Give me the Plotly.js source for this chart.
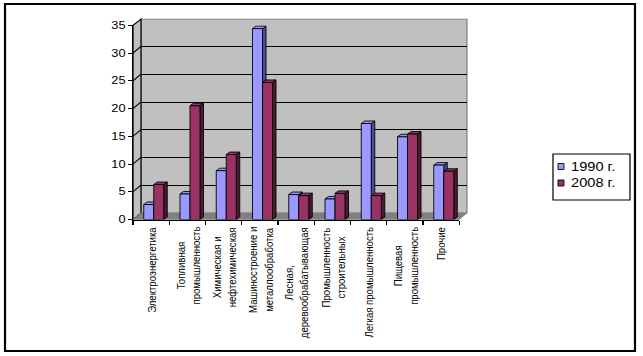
<!DOCTYPE html>
<html><head><meta charset="utf-8">
<script src="https://cdn.plot.ly/plotly-3.0.1.min.js"></script>
<style>
html,body{margin:0;padding:0;background:#fff;overflow:hidden;}
#wrap{width:643px;height:356px;overflow:hidden;position:relative;}
#chart{width:527px;height:356px;transform:scaleX(1.22011);transform-origin:0 0;}
</style></head><body><div id="wrap"><div id="chart"></div></div>
<script>
// ---- data ----
const categories = [
  "Электроэнергетика",
  "Топливная<br>промышленность",
  "Химическая и<br>нефтехимическая",
  "Машиностроение и<br>металлообработка",
  "Лесная,<br>деревообрабатывающая",
  "Промышленность<br>строительных",
  "Легкая промышленность",
  "Пищевая<br>промышленность",
  "Прочие"
];
const seriesNames = ["1990 г.", "2008 г."];
const v1990 = [2.7, 4.6, 8.8, 34.4, 4.5, 3.7, 17.3, 14.9, 9.8];
const v2008 = [6.3, 20.5, 11.7, 24.7, 4.3, 4.7, 4.3, 15.4, 8.7];
const yTicks = [0, 5, 10, 15, 20, 25, 30, 35];

// ---- layout helpers (reference pixel frame -> paper fractions) ----
const W = 643, H = 356;
const fx = x => x / W, fy = y => 1 - y / H;
const FRONT = {x0: 133, x1: 459.3, yb: 219.5, yt: 25.3};
const BACK  = {x0: 141, x1: 467,   yb: 213,   yt: 19.2};
const FONT = "Liberation Sans, Arial, sans-serif";

const series = [
  {name: seriesNames[0], vals: v1990, off: -0.204, front: "#9999FF", side: "#4D4D99", top: "#9999FF"},
  {name: seriesNames[1], vals: v2008, off: 0.072,  front: "#993366", side: "#4D1A33", top: "#993366"}
];
const BW = 0.276, DX = 0.0965, DY = 0.45;

const traces = [
  {type: "scatter", x: [], y: [], xaxis: "x", yaxis: "y", hoverinfo: "skip", showlegend: false}
];
series.forEach(s => traces.push({
  type: "bar", name: s.name, x: categories, y: s.vals, xaxis: "x2", yaxis: "y2",
  width: BW, offset: s.off, marker: {color: s.front, line: {color: "#000", width: 0.8}},
  showlegend: false, hoverinfo: "skip"
}));

const P = (pts) => "M" + pts.map(p => fx(p[0]) + "," + fy(p[1])).join(" L") + " Z";
const shapes = [];
// back wall, left wall, floor
shapes.push({type: "rect", xref: "paper", yref: "paper", layer: "below",
  x0: fx(BACK.x0), x1: fx(BACK.x1), y0: fy(BACK.yb), y1: fy(BACK.yt),
  fillcolor: "#C0C0C0", line: {color: "#808080", width: 1}});
shapes.push({type: "path", xref: "paper", yref: "paper", layer: "below",
  path: P([[FRONT.x0, FRONT.yb], [FRONT.x0, FRONT.yt], [BACK.x0, BACK.yt], [BACK.x0, BACK.yb]]),
  fillcolor: "#C0C0C0", line: {color: "#000", width: 1}});
shapes.push({type: "path", xref: "paper", yref: "paper", layer: "below",
  path: P([[FRONT.x0, FRONT.yb], [FRONT.x1, FRONT.yb], [BACK.x1, BACK.yb], [BACK.x0, BACK.yb]]),
  fillcolor: "#808080", line: {color: "#808080", width: 0.5}});
// left-wall grid diagonals
yTicks.slice(1, -1).forEach(v => shapes.push({type: "line", xref: "paper", yref: "y2",
  ysizemode: "pixel", yanchor: v, x0: fx(FRONT.x0), x1: fx(BACK.x0), y0: 0, y1: 6.6,
  layer: "below", line: {color: "#000", width: 1}}));
// 3D faces of bars
series.forEach(s => {
  s.vals.forEach((v, i) => {
    const xl = i + s.off, xr = xl + BW;
    shapes.push({type: "path", xref: "x2", yref: "y2", layer: "below",
      path: `M${xr},0 L${xr + DX},${DY} L${xr + DX},${v + DY} L${xr},${v} Z`,
      fillcolor: s.side, line: {color: "#000", width: 0.8}});
    shapes.push({type: "path", xref: "x2", yref: "y2", layer: "below",
      path: `M${xl},${v} L${xl + DX},${v + DY} L${xr + DX},${v + DY} L${xr},${v} Z`,
      fillcolor: s.top, line: {color: "#000", width: 0.8}});
  });
});
// outer border
shapes.push({type: "rect", xref: "paper", yref: "paper", x0: fx(5), x1: fx(635), y0: fy(351), y1: fy(4),
  line: {color: "#000", width: 1.8}, fillcolor: "rgba(0,0,0,0)"});
// legend box and keys
const LEG = {x0: 553, x1: 630, y0: 154, y1: 200, rows: [166.5, 183], kx: 558, ks: 6, tx: 568};
shapes.push({type: "rect", xref: "paper", yref: "paper", x0: fx(LEG.x0), x1: fx(LEG.x1), y0: fy(LEG.y1), y1: fy(LEG.y0),
  line: {color: "#000", width: 1}, fillcolor: "#fff"});
series.forEach((s, k) => shapes.push({type: "rect", xref: "paper", yref: "paper",
  x0: fx(LEG.kx), x1: fx(LEG.kx + LEG.ks), y0: fy(LEG.rows[k] + LEG.ks / 2), y1: fy(LEG.rows[k] - LEG.ks / 2),
  fillcolor: s.front, line: {color: "#000", width: 0.8}}));

const annotations = [];
categories.forEach(c => annotations.push({
  text: c, xref: "x2", yref: "paper", x: c, y: fy(225), xanchor: "center", yanchor: "top",
  textangle: -90, align: "center", showarrow: false, font: {family: FONT, size: 9.6, color: "#000"}
}));
series.forEach((s, k) => annotations.push({
  text: s.name, xref: "paper", yref: "paper", x: fx(LEG.tx), y: fy(LEG.rows[k]),
  xanchor: "left", yanchor: "middle", showarrow: false, font: {family: FONT, size: 12, color: "#000"}
}));

const layout = {
  width: 527, height: 356, margin: {l: 0, r: 0, t: 0, b: 0},
  paper_bgcolor: "#fff", plot_bgcolor: "rgba(0,0,0,0)",
  font: {family: FONT, size: 10, color: "#000"},
  showlegend: false, barmode: "overlay",
  xaxis: {domain: [fx(BACK.x0), fx(BACK.x1)], range: [0, 1], anchor: "y",
    showgrid: false, zeroline: false, showline: false, showticklabels: false, ticks: "", fixedrange: true},
  yaxis: {domain: [fy(BACK.yb), fy(BACK.yt)], range: [0, 35], anchor: "x",
    tickvals: yTicks.slice(1, -1), showgrid: true, gridcolor: "#000", gridwidth: 1,
    zeroline: false, showline: false, showticklabels: false, ticks: "", fixedrange: true},
  xaxis2: {domain: [fx(FRONT.x0), fx(FRONT.x1)], anchor: "y2", type: "category",
    categoryorder: "array", categoryarray: categories, range: [-0.5, categories.length - 0.5],
    showline: true, linecolor: "#000", linewidth: 1, ticks: "outside", tickson: "boundaries",
    ticklen: 4, tickcolor: "#000", tickwidth: 1, showticklabels: false, showgrid: false, zeroline: false, fixedrange: true},
  yaxis2: {domain: [fy(FRONT.yb), fy(FRONT.yt)], anchor: "x2", range: [0, 35],
    tickvals: yTicks, ticktext: yTicks.map(String), showline: true, linecolor: "#000", linewidth: 1,
    ticks: "outside", ticklen: 3, tickcolor: "#000", tickwidth: 1, showgrid: false, zeroline: false,
    tickfont: {family: FONT, size: 10.5, color: "#000"}, fixedrange: true},
  shapes: shapes, annotations: annotations
};
Plotly.newPlot("chart", traces, layout, {staticPlot: true, displayModeBar: false});
</script></body></html>
